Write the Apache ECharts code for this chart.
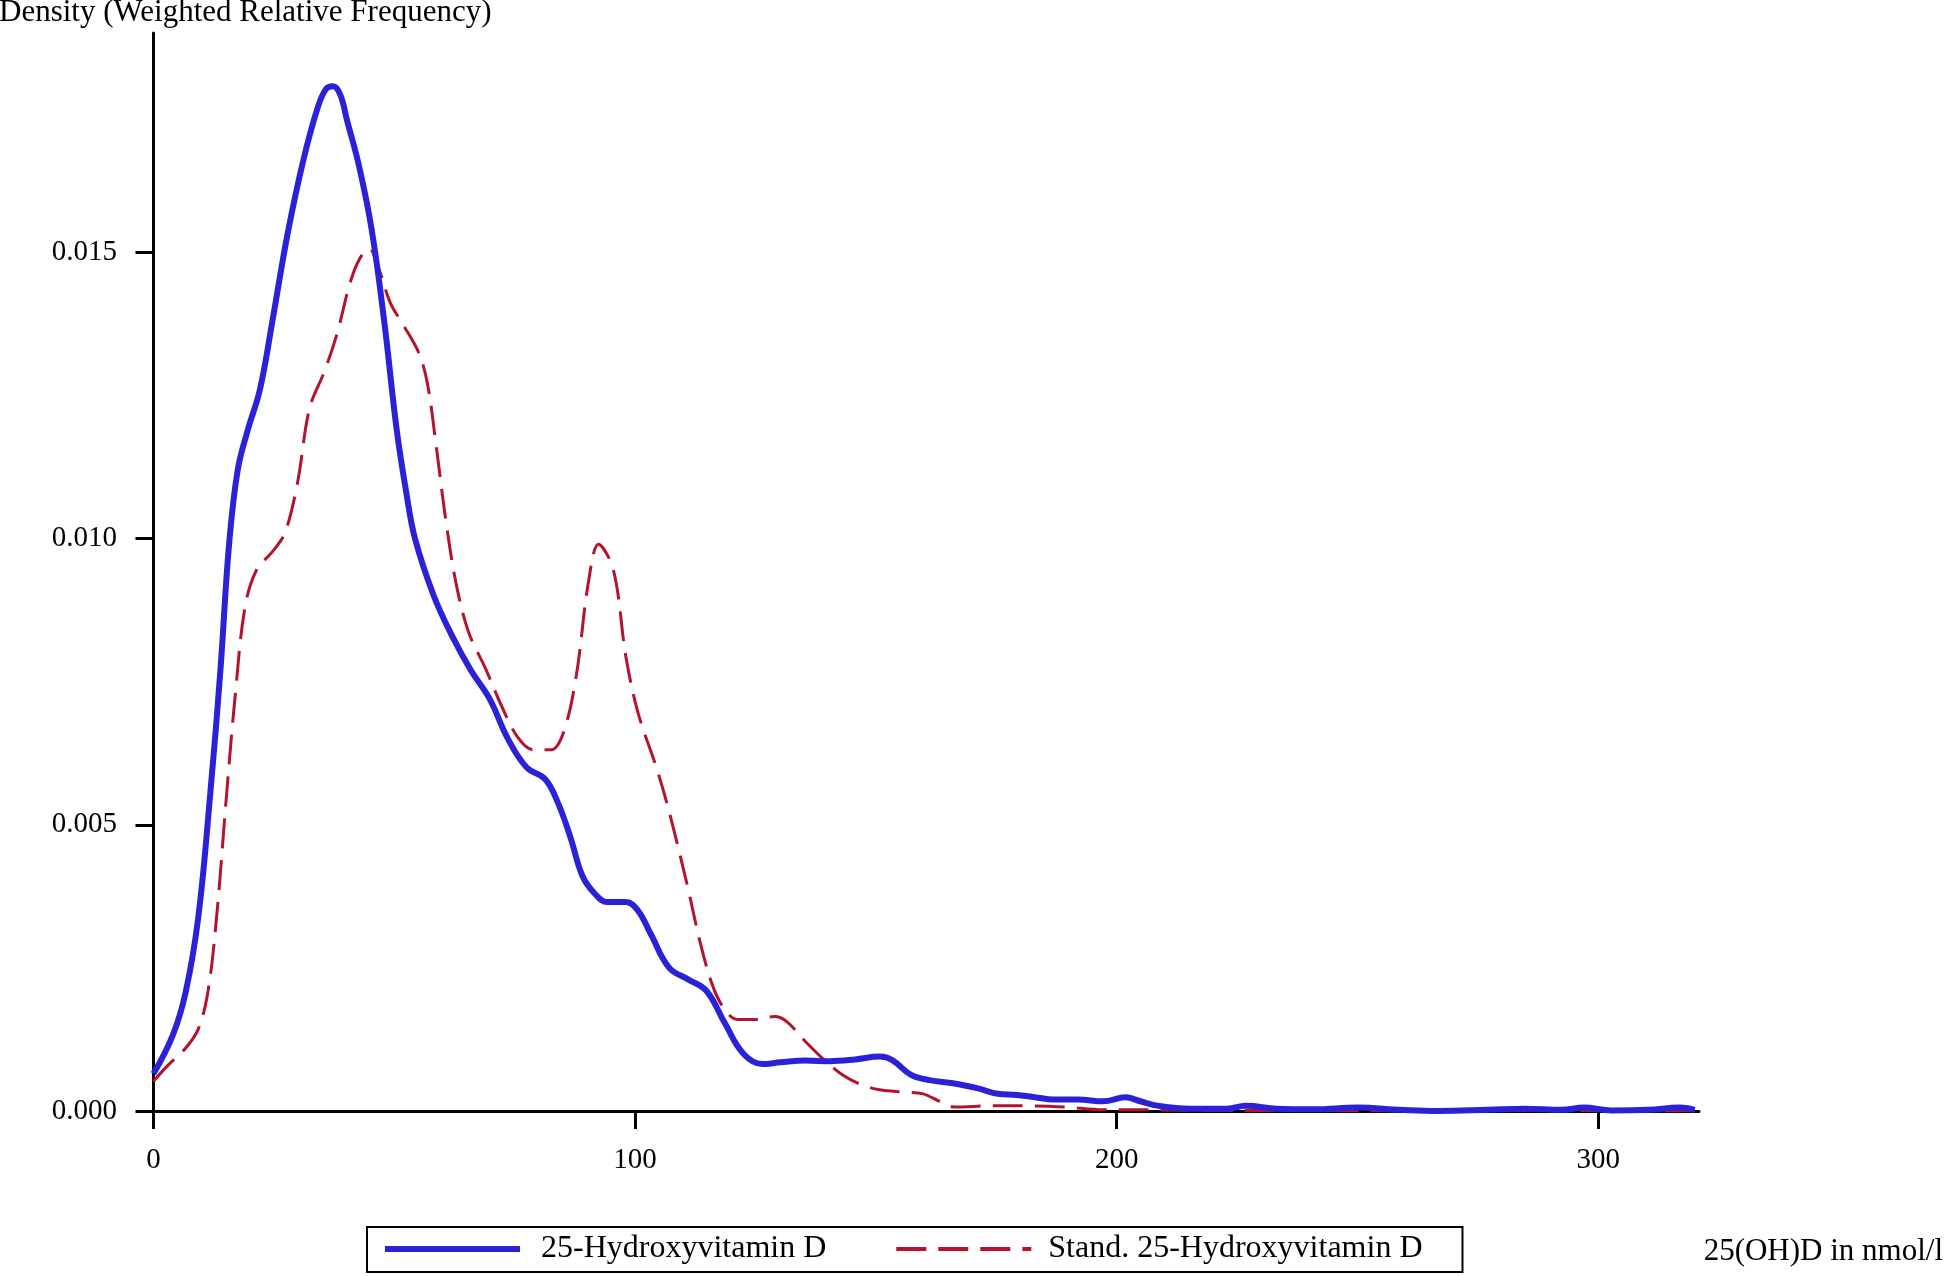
<!DOCTYPE html>
<html>
<head>
<meta charset="utf-8">
<title>25(OH)D density</title>
<script src="https://cdn.jsdelivr.net/npm/echarts@6/dist/echarts.min.js"></script>
<style>
  html, body { margin: 0; padding: 0; background: #fff; }
  #chart { width: 1945px; height: 1276px; }
</style>
</head>
<body>
<div id="chart"></div>
<script>
// 25-Hydroxyvitamin D, weighted density (x in nmol/l)
const blueX = [0, 4, 6.7, 9.3, 11.8, 13.9, 15.7, 17.5, 19.6, 22.1, 24.7, 27.8, 31.1, 34, 35.8, 37.3,
  38.8, 40.2, 42.7, 45.3, 47.9, 50.5, 52.5, 54.3, 58.2, 62, 65.9, 69.8, 73.6, 77.5, 81.3, 83.9, 86.5,
  89.1, 91.6, 94.2, 98.1, 100.6, 103.2, 107.1, 111, 114.8, 118.6, 122.5, 126.4, 130.2, 135.4, 140.5,
  145.7, 150.8, 153.4, 157.3, 161.1, 166.3, 171.4, 175.3, 179.2, 183, 186.9, 192, 197.2, 201.8, 204.9,
  208.7, 215.2, 222.9, 226.8, 233.2, 241, 250, 259, 266.7, 277, 284.7, 292.4, 297, 302.7,
  310.4, 316.9, 320];
const blueY = [0.00065, 0.00132, 0.00208, 0.00338, 0.00555, 0.0077, 0.0099, 0.0112, 0.0119, 0.0126, 0.0138, 0.0153, 0.0166, 0.0175, 0.01785, 0.0179,
  0.01775, 0.0173, 0.0165, 0.0154, 0.0138, 0.0119, 0.0108, 0.0100, 0.0090, 0.0083, 0.0077, 0.0072, 0.0065, 0.0060, 0.0058, 0.0054, 0.0048,
  0.0041, 0.0038, 0.00365, 0.00365, 0.0035, 0.0031, 0.0025, 0.0023, 0.0021, 0.00154, 0.0010, 0.00082, 0.00085, 0.00088, 0.00087,
  0.0009, 0.00095, 0.00089, 0.00063, 0.00054, 0.00048, 0.00039, 0.0003, 0.00028, 0.00024, 0.0002, 0.0002, 0.00017, 0.00024, 0.00017,
  0.00009, 0.00004, 0.00004, 0.00009, 0.00004, 0.00003, 0.00006, 0.00002, 0, 0.00002, 0.00004, 0.00002, 0.00006, 0.00001,
  0.00002, 0.00006, 0.00002];

// standardized 25-Hydroxyvitamin D
const redX = [0, 2.8, 6.7, 9.3, 11.3, 13.1, 15.2, 17, 19, 21.4, 24.7, 27.3, 29.9, 32.4, 35.5,
  38.1, 40.7, 42.7, 44.8, 46.6, 49.2, 51.8, 55.1, 56.9, 58.7, 60.7, 62.8, 65.4, 69, 72.3,
  75.7, 78.8, 82.6, 85.2, 87.8, 90.3, 92.4, 95.5, 98.1, 100.6, 104.5, 107.1, 110.9, 113.5, 116.1,
  118.7, 121.3, 125.1, 129, 131.5, 135.4, 139.3, 143.1, 147, 150.8, 156, 159.8, 163.2, 166.3, 174,
  181.7, 189.4, 197.2, 207.5, 220, 240, 260, 280, 300, 320];
const redY = [0.00052, 0.00078, 0.0011, 0.00143, 0.00208, 0.00338, 0.00555, 0.00728, 0.0088, 0.00945, 0.00977, 0.0101, 0.01097, 0.01227, 0.01292,
  0.01357, 0.01443, 0.01487, 0.01506, 0.01476, 0.01411, 0.01374, 0.01324, 0.0127, 0.01162, 0.01032, 0.00923, 0.00837, 0.00772, 0.00707,
  0.00652, 0.00631, 0.00631, 0.00663, 0.00761, 0.00923, 0.0099, 0.00945, 0.00793, 0.00696, 0.00598, 0.00522, 0.00392, 0.00295, 0.00219,
  0.00176, 0.0016, 0.0016, 0.00165, 0.00156, 0.00121, 0.00089, 0.00063, 0.00046, 0.00037, 0.00033, 0.0003, 0.00017, 0.00007, 0.00009,
  0.00009, 0.00007, 0.00002, 0.00002, 0.00001, 0.00001, 0, 0.00001, 0.00001, 0];

const xTicks = [0, 100, 200, 300];
const yTicks = [0, 0.005, 0.010, 0.015];

const blue = '#2b22d8';
const red = '#b3132b';
const serif = "'Liberation Serif', 'Times New Roman', serif";
const chart = echarts.init(document.getElementById('chart'));

const pairs = (xs, ys) => xs.map((x, i) => [x, ys[i]]);

const option = {
  backgroundColor: '#fff',
  animation: false,
  title: [
    {
      text: 'Density (Weighted Relative Frequency)',
      left: -1, top: -3, padding: 0,
      textStyle: { fontFamily: serif, fontSize: 31, fontWeight: 'normal', color: '#000' }
    },
    {
      text: '25(OH)D in nmol/l',
      right: 2, top: 1236, padding: 0,
      textStyle: { fontFamily: serif, fontSize: 31, fontWeight: 'normal', color: '#000' }
    }
  ],
  legend: {
    left: 367, top: 1227,
    padding: [6, 40, 7, 15],
    itemWidth: 135, itemHeight: 20, itemGap: 68,
    borderColor: '#000', borderWidth: 2,
    itemStyle: { opacity: 0 },
    textStyle: { fontFamily: serif, fontSize: 32, color: '#000' },
    data: [
      {
        name: '25-Hydroxyvitamin D',
        lineStyle: { color: blue, width: 6, type: 'solid' },
        textStyle: { padding: [0, 0, 0, 16] }
      },
      {
        name: 'Stand. 25-Hydroxyvitamin D',
        lineStyle: { color: red, width: 4, type: [30, 12] },
        textStyle: { padding: [0, 0, 0, 12] }
      }
    ]
  },
  grid: { left: 146, right: 246, top: 33, bottom: 165, containLabel: false },
  xAxis: {
    type: 'value',
    min: -1.55, max: 320.9,
    splitLine: { show: false },
    axisLine: { show: true, lineStyle: { color: '#000', width: 3 } },
    axisTick: { show: true, length: 18, lineStyle: { color: '#000', width: 3 }, customValues: xTicks },
    axisLabel: {
      fontFamily: serif, fontSize: 29, color: '#000', margin: 35,
      customValues: xTicks
    }
  },
  yAxis: {
    type: 'value',
    min: 0, max: 0.01883,
    splitLine: { show: false },
    axisLine: { show: true, lineStyle: { color: '#000', width: 3 } },
    axisTick: { show: true, length: 18, lineStyle: { color: '#000', width: 3 }, customValues: yTicks },
    axisLabel: {
      fontFamily: serif, fontSize: 29, color: '#000', margin: 29,
      customValues: yTicks,
      formatter: v => v.toFixed(3)
    }
  },
  series: [
    {
      name: '25-Hydroxyvitamin D',
      type: 'line',
      data: pairs(blueX, blueY),
      smooth: 0.4,
      showSymbol: false, symbol: 'none',
      lineStyle: { color: blue, width: 6 },
      itemStyle: { color: blue },
      z: 3
    },
    {
      name: 'Stand. 25-Hydroxyvitamin D',
      type: 'line',
      data: pairs(redX, redY),
      smooth: 0.35,
      showSymbol: false, symbol: 'none',
      lineStyle: { color: red, width: 3, type: [30, 12] },
      itemStyle: { color: red },
      z: 2
    }
  ]
};

chart.setOption(option);
</script>
</body>
</html>
